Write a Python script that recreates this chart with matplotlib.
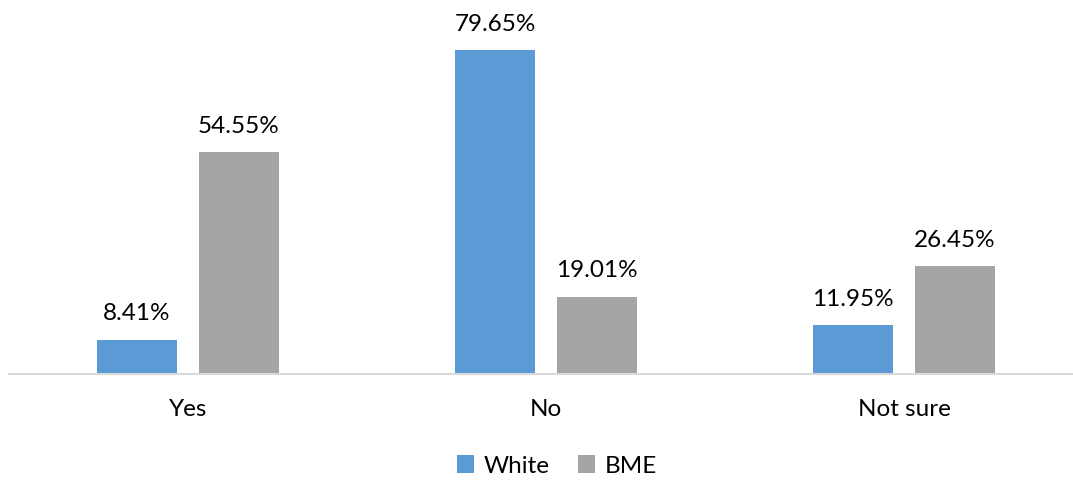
import numpy as np
import matplotlib.pyplot as plt

plt.rcParams['font.family'] = ['Lato', 'DejaVu Sans']

categories = ['Yes', 'No', 'Not sure']
white = [8.41, 79.65, 11.95]
bme = [54.55, 19.01, 26.45]
series_names = ['White', 'BME']

fig = plt.figure(figsize=(10.73, 4.8), dpi=100)
ax = fig.add_axes([9/1073, 106/480, 1 - 9/1073, 366/480])

x = np.arange(len(categories))
off = 51/358
w = 80/358
b1 = ax.bar(x - off, white, w, color='#5B9BD5', label=series_names[0])
b2 = ax.bar(x + off, bme, w, color='#A5A5A5', label=series_names[1])

for bars, vals in ((b1, white), (b2, bme)):
    for rect, v in zip(bars, vals):
        ax.annotate('%.2f%%' % v, (rect.get_x() + rect.get_width()/2, v),
                    xytext=(0, 14), textcoords='offset points',
                    ha='center', va='baseline', fontsize=17.5, color='#000000')

ax.set_xlim(-0.5, 2.5 - 10/358)
ax.set_ylim(0, 90)
ax.set_xticks(x)
ax.set_xticklabels(categories, fontsize=17.5)
ax.tick_params(axis='x', length=0, pad=18)
ax.set_yticks([])
for s in ('top', 'right', 'left'):
    ax.spines[s].set_visible(False)
ax.spines['bottom'].set_color('#D9D9D9')
ax.spines['bottom'].set_linewidth(1.5)

fig.legend(handles=[b1, b2], loc='center', bbox_to_anchor=(557/1073, 1 - 466/480),
           ncol=2, frameon=False, fontsize=17.5, handlelength=0.7, handleheight=0.7,
           handletextpad=0.4, columnspacing=1.2)

fig.savefig('out.png', dpi=100)
